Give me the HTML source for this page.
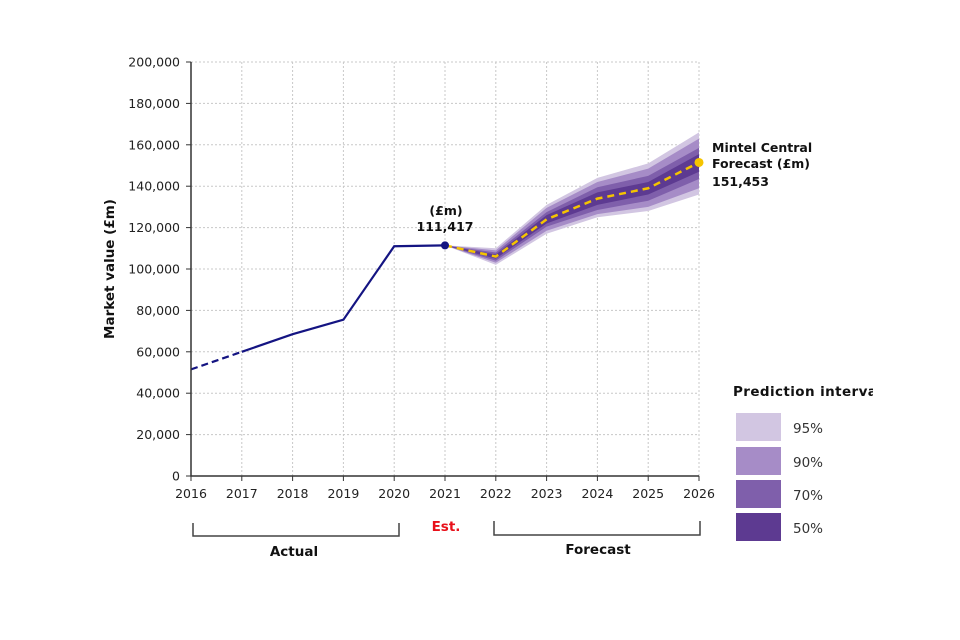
<!DOCTYPE html>
<html><head><meta charset="utf-8"><style>
html,body{margin:0;padding:0;background:#fff;width:960px;height:640px;overflow:hidden}
svg text{font-family:"DejaVu Sans","Liberation Sans",sans-serif}
</style></head><body>
<svg id="chart" width="960" height="640" viewBox="0 0 960 640" xmlns="http://www.w3.org/2000/svg">
<g id="grid"></g>
<g id="bands"></g>
<g id="lines"></g>
<g id="axes"></g>
<text transform="translate(114,269) rotate(-90)" text-anchor="middle" font-size="13.5" font-weight="bold" fill="#111">Market value (£m)</text>
<g font-size="12.5" font-weight="bold" fill="#111" text-anchor="middle">
<text x="446" y="215">(£m)</text><text x="445" y="231">111,417</text></g>
<g font-size="12.5" font-weight="bold" fill="#111">
<text x="712" y="152">Mintel Central</text><text x="712" y="168">Forecast (£m)</text><text x="712" y="186">151,453</text></g>
<g fill="none" stroke="#444" stroke-width="1.5">
<path d="M193,523 V536 H399 V523"/><path d="M494,521 V535 H700 V521"/></g>
<text x="294" y="556" text-anchor="middle" font-size="13.5" font-weight="bold" fill="#111">Actual</text>
<text x="446" y="531" text-anchor="middle" font-size="13.5" font-weight="bold" fill="#e8101a">Est.</text>
<text x="598" y="554" text-anchor="middle" font-size="13.5" font-weight="bold" fill="#111">Forecast</text>
<g id="legend">
<text x="733" y="396" font-size="13.5" font-weight="bold" letter-spacing="0.4" fill="#111">Prediction interval</text>
</g>
<rect x="873" y="378" width="87" height="30" fill="#fff"/>
</svg>
<script>
const years=[2016,2017,2018,2019,2020,2021,2022,2023,2024,2025,2026];
const yTicks=[0,20000,40000,60000,80000,100000,120000,140000,160000,180000,200000];
const actualYears=[2016,2017,2018,2019,2020,2021];
const actualValues=[51500,60000,68500,75500,111000,111417];
const fcYears=[2021,2022,2023,2024,2025,2026];
const fcValues=[111417,106000,124000,134000,139000,151453];
const hi95=[111417,110000,131000,144000,151000,166000];
const lo95=[111417,102000,117000,125000,128000,136000];
const hi90=[111417,109000,129500,142000,148500,163000];
const lo90=[111417,103000,118500,126500,130000,139000];
const hi70=[111417,108000,127500,139500,145000,158500];
const lo70=[111417,104000,120500,128500,133000,143500];
const hi50=[111417,107000,126000,137000,142000,155500];
const lo50=[111417,105000,122000,131000,136000,147000];
const bandNames=["95%","90%","70%","50%"];
const bandColors=["#d2c6e2","#a68cc7","#7f5fab","#5d3a91"];
const NS="http://www.w3.org/2000/svg";
const X=v=>191+(v-2016)*50.8;
const Y=v=>476-v*(414/200000);
function mk(parent,tag,attrs,txt){const e=document.createElementNS(NS,tag);for(const k in attrs)e.setAttribute(k,attrs[k]);if(txt!=null)e.textContent=txt;document.getElementById(parent).appendChild(e);return e;}
yTicks.forEach(t=>{if(t>0){const l=mk("grid","line",{x1:191,x2:699,y1:Y(t),y2:Y(t),stroke:"#c8c8c8","stroke-dasharray":"2,2"});

}});
years.forEach(y=>{if(y>2016){const l=mk("grid","line",{x1:X(y),x2:X(y),y1:62,y2:476,stroke:"#c8c8c8","stroke-dasharray":"2,2"});

}});
const his=[hi95,hi90,hi70,hi50],los=[lo95,lo90,lo70,lo50];
his.forEach((h,i)=>{let d="";fcYears.forEach((y,j)=>d+=(j?"L":"M")+X(y)+","+Y(h[j]));for(let j=fcYears.length-1;j>=0;j--)d+="L"+X(fcYears[j])+","+Y(los[i][j]);
const p=mk("bands","path",{d:d+"Z",fill:bandColors[i]});

});
const pts=actualYears.map((y,i)=>X(y)+","+Y(actualValues[i]));
const dsh=mk("lines","polyline",{points:pts.slice(0,2).join(" "),fill:"none",stroke:"#141482","stroke-width":2.2,"stroke-dasharray":"7,4"});


const sol=mk("lines","polyline",{points:pts.slice(1).join(" "),fill:"none",stroke:"#141482","stroke-width":2.2});


const fc=mk("lines","polyline",{points:fcYears.map((y,i)=>X(y)+","+Y(fcValues[i])).join(" "),fill:"none",stroke:"#f5c400","stroke-width":2.5,"stroke-dasharray":"7,5"});


const d1=mk("lines","circle",{cx:X(2021),cy:Y(111417),r:4,fill:"#141482"});


const d2=mk("lines","circle",{cx:X(2026),cy:Y(fcValues[fcValues.length-1]),r:4.5,fill:"#f5c400"});


const ax=mk("axes","path",{d:"M191,62 V476 H699",fill:"none",stroke:"#333","stroke-width":1.5});


yTicks.forEach(t=>{const tx=mk("axes","text",{x:180,y:Y(t)+4.5,"text-anchor":"end","font-size":12.5,fill:"#222"},t.toLocaleString("en-US"));


mk("axes","line",{x1:186,x2:191,y1:Y(t),y2:Y(t),stroke:"#333"});});
years.forEach(y=>{const tx=mk("axes","text",{x:X(y),y:498,"text-anchor":"middle","font-size":12.5,fill:"#222"},y);


mk("axes","line",{x1:X(y),x2:X(y),y1:476,y2:481,stroke:"#333"});});
const ly=[413,447,480,513];
bandNames.forEach((n,i)=>{const r=mk("legend","rect",{x:736,y:ly[i],width:45,height:28,fill:bandColors[i]});


const t=mk("legend","text",{x:793,y:ly[i]+20,"font-size":13.5,fill:"#333"},n);

});
</script>
</body></html>
